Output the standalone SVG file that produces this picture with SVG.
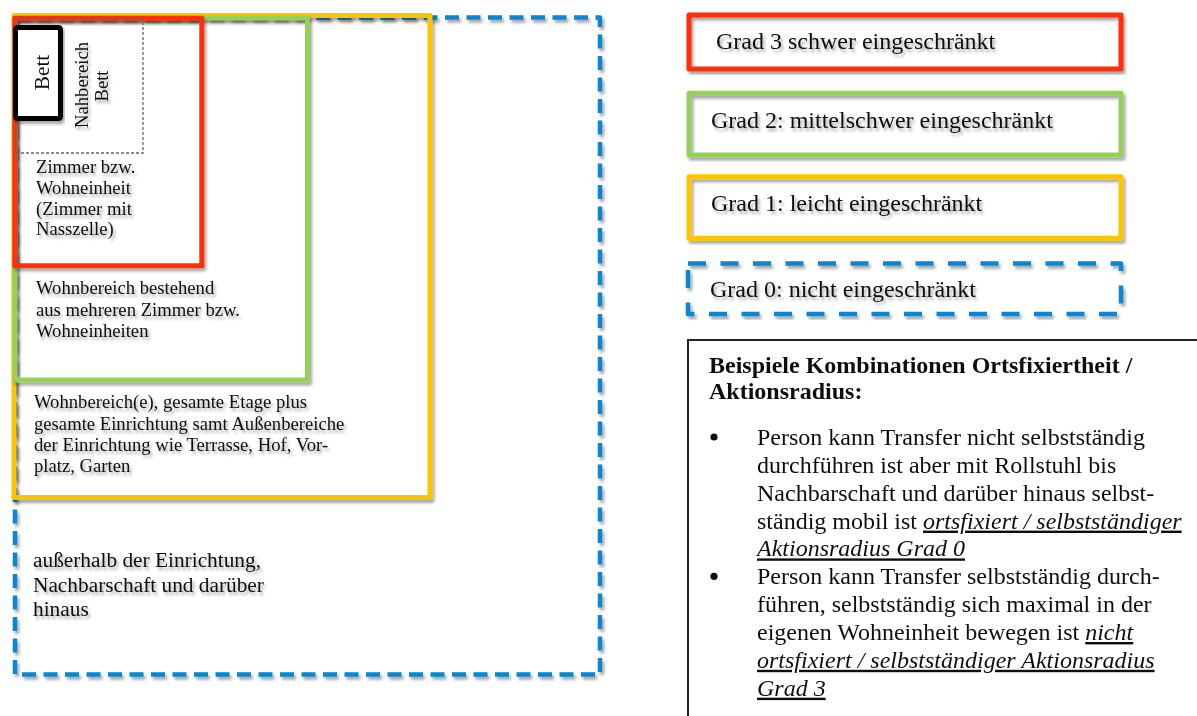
<svg xmlns="http://www.w3.org/2000/svg" width="1197" height="716" viewBox="0 0 1197 716">
  <defs>
    <filter id="shadow" x="-5%" y="-5%" width="115%" height="115%">
      <feDropShadow dx="2" dy="3" stdDeviation="1.6" flood-color="#000" flood-opacity="0.35"/>
    </filter>
  </defs>
  <style>
    text { font-family: "Liberation Serif", "Times New Roman", serif; fill: #111; }
    .s18 { font-size: 18.67px; }
    .s21 { font-size: 21.33px; }
    .s24 { font-size: 24px; }
    .bold { font-weight: bold; }
    .em { font-style: italic; text-decoration: underline; }
    .bullet { fill: #111; }
    .frame { fill: none; stroke-linejoin: round; }
    .red { stroke: #FF2D0A; stroke-width: 5; }
    .green { stroke: #96D05A; stroke-width: 5; }
    .amber { stroke: #FFC400; stroke-width: 5; }
    .blue { stroke: #0785CF; stroke-width: 4.5; }
    .shd { filter: url(#shadow); }
  </style>
  <rect width="1197" height="716" fill="#fff"/>

  <!-- nested activity zones, outermost first -->
  <g id="zone-outside" class="shd">
    <rect class="frame blue" x="15" y="17.5" width="585" height="657" stroke-dasharray="14 7.5"/>
    <text class="s21" x="33" y="567">außerhalb der Einrichtung,</text>
    <text class="s21" x="33" y="592">Nachbarschaft und darüber</text>
    <text class="s21" x="33" y="616">hinaus</text>
  </g>

  <g id="zone-facility" class="shd">
    <rect class="frame amber" x="14" y="15.5" width="416" height="482"/>
    <text class="s18" x="34" y="408">Wohnbereich(e), gesamte Etage plus</text>
    <text class="s18" x="34" y="429.5">gesamte Einrichtung samt Außenbereiche</text>
    <text class="s18" x="34" y="450.7">der Einrichtung wie Terrasse, Hof, Vor-</text>
    <text class="s18" x="34" y="471.7">platz, Garten</text>
  </g>

  <g id="zone-living-area" class="shd">
    <rect class="frame green" x="15" y="18" width="292.5" height="362"/>
    <text class="s18" x="36" y="294.3">Wohnbereich bestehend</text>
    <text class="s18" x="36" y="315.8">aus mehreren Zimmer bzw.</text>
    <text class="s18" x="36" y="337.3">Wohneinheiten</text>
  </g>

  <g id="zone-room" class="shd">
    <rect class="frame red" x="14.8" y="18.3" width="187" height="247.5"/>
    <text class="s18" x="36" y="173.3">Zimmer bzw.</text>
    <text class="s18" x="36" y="194">Wohneinheit</text>
    <text class="s18" x="36" y="214.6">(Zimmer mit</text>
    <text class="s18" x="36" y="235.3">Nasszelle)</text>
  </g>

  <g id="zone-near-bed">
    <rect x="16" y="19" width="127" height="134" fill="none" stroke="#666" stroke-width="1.3" stroke-dasharray="3 2"/>
    <g class="shd">
      <text class="s18" transform="translate(88,85) rotate(-90)" text-anchor="middle">Nahbereich</text>
      <text class="s18" transform="translate(108,86) rotate(-90)" text-anchor="middle">Bett</text>
    </g>
  </g>

  <g id="bed" class="shd">
    <rect x="15.5" y="27.5" width="45" height="91" rx="2" fill="#fff" stroke="#000" stroke-width="5"/>
    <text class="s21" transform="translate(49,72.5) rotate(-90)" text-anchor="middle">Bett</text>
  </g>

  <!-- legend of restriction grades -->
  <g id="legend-grade-3" class="shd">
    <rect class="frame red" x="689" y="15" width="432" height="54" fill="#fff"/>
    <text class="s24" x="716" y="49.3">Grad 3 schwer eingeschränkt</text>
  </g>
  <g id="legend-grade-2" class="shd">
    <rect class="frame green" x="689" y="93.3" width="432" height="61.7"/>
    <text class="s24" x="711" y="128">Grad 2: mittelschwer eingeschränkt</text>
  </g>
  <g id="legend-grade-1" class="shd">
    <rect class="frame amber" x="689" y="176.7" width="432" height="61.5"/>
    <text class="s24" x="711" y="211">Grad 1: leicht eingeschränkt</text>
  </g>
  <g id="legend-grade-0" class="shd">
    <rect class="frame blue" x="688" y="263.5" width="433" height="50.5" stroke-dasharray="18 14.5"/>
    <text class="s24" x="710" y="297">Grad 0: nicht eingeschränkt</text>
  </g>

  <!-- examples panel -->
  <g id="examples" class="shd">
    <rect x="688" y="340" width="530" height="400" fill="#fff" stroke="#222" stroke-width="2"/>
    <text class="s24 bold" x="709" y="372.7">Beispiele Kombinationen Ortsfixiertheit /</text>
    <text class="s24 bold" x="709" y="399.3">Aktionsradius:</text>

    <circle class="bullet" cx="714" cy="437" r="3.6"/>
    <text class="s24" x="757" y="445">Person kann Transfer nicht selbstständig</text>
    <text class="s24" x="757" y="472.9">durchführen ist aber mit Rollstuhl bis</text>
    <text class="s24" x="757" y="500.7">Nachbarschaft und darüber hinaus selbst-</text>
    <text class="s24" x="757" y="528.6">ständig mobil ist <tspan class="em">ortsfixiert / selbstständiger</tspan></text>
    <text class="s24" x="757" y="556.4"><tspan class="em">Aktionsradius Grad 0</tspan></text>

    <circle class="bullet" cx="714" cy="576.3" r="3.6"/>
    <text class="s24" x="757" y="584.3">Person kann Transfer selbstständig durch-</text>
    <text class="s24" x="757" y="612.1">führen, selbstständig sich maximal in der</text>
    <text class="s24" x="757" y="640">eigenen Wohneinheit bewegen ist <tspan class="em">nicht</tspan></text>
    <text class="s24" x="757" y="667.8"><tspan class="em">ortsfixiert / selbstständiger Aktionsradius</tspan></text>
    <text class="s24" x="757" y="695.7"><tspan class="em">Grad 3</tspan></text>
  </g>
</svg>
